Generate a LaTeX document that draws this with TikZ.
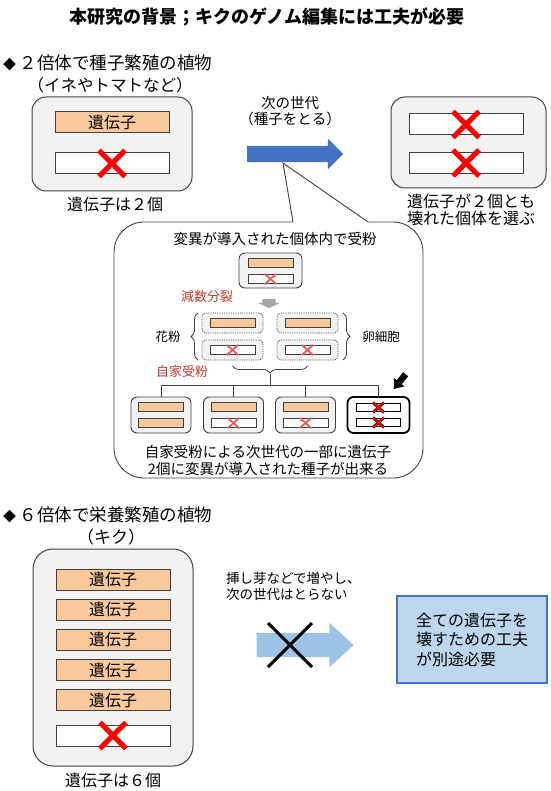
\documentclass[tikz,border=0pt]{standalone}
\usepackage{fontspec}
\setmainfont{Noto Sans CJK JP}
\usetikzlibrary{shapes.misc,shapes.arrows,decorations.pathreplacing}
\definecolor{GeneOrange}{HTML}{F9C89B}
\definecolor{CellGray}{HTML}{F2F2F2}
\definecolor{EdgeGray}{HTML}{404040}
\definecolor{SeedBlue}{HTML}{4472C4}
\definecolor{CloneBlue}{HTML}{9DC3E6}
\definecolor{NoteBlue}{HTML}{BDD7EE}
\definecolor{StepRed}{HTML}{C0392B}
\definecolor{MarkRed}{HTML}{E8575A}
\definecolor{DownGray}{HTML}{A6A6A6}
\newcommand{\fsize}[2]{\fontsize{#1}{#2}\selectfont}
\newcommand{\bullmark}{{\fsize{13}{20}◆}}
\newcommand{\drawgene}{\node[gene]}
\newcommand{\drawslot}{\node[slot]}
\newcommand{\drawcross}{\node[bigcross]}
\newcommand{\drawmini}{\node[minigene]}
\newcommand{\drawminislot}{\node[minislot]}
\newcommand{\drawminicross}{\node[minicross]}

\begin{document}
\begin{tikzpicture}[x=1pt, y=-1pt, every node/.style={inner sep=0, outer sep=0},
  cell/.style={draw=EdgeGray, fill=CellGray, line width=1pt, rounded corners=14pt},
  gene/.style={draw=EdgeGray, fill=GeneOrange, line width=1pt, minimum width=114pt, minimum height=21pt, font=\fsize{16}{18}},
  slot/.style={draw=EdgeGray, fill=white, line width=1pt, minimum width=114pt, minimum height=21pt},
  bigcross/.style={cross out, draw=red, line width=5pt, minimum size=26pt},
  halfcell/.style={draw=EdgeGray, densely dotted, fill=CellGray, line width=0.8pt, rounded corners=4pt, minimum width=61pt, minimum height=20pt},
  seedcell/.style={draw=EdgeGray, fill=CellGray, line width=0.9pt, rounded corners=6pt, minimum width=60pt, minimum height=36pt},
  minigene/.style={draw=EdgeGray, fill=GeneOrange, line width=0.7pt, minimum width=45pt, minimum height=8.5pt},
  minislot/.style={draw=EdgeGray, fill=white, line width=0.7pt, minimum width=45pt, minimum height=8.5pt},
  minicross/.style={cross out, draw=MarkRed, line width=1.8pt, minimum width=11pt, minimum height=10pt},
  koslot/.style={draw=black, fill=white, line width=1.2pt, minimum width=44pt, minimum height=8.5pt},
  kocross/.style={cross out, draw=black, double=red, line width=0.5pt, double distance=1.8pt, minimum width=11pt, minimum height=10pt},
  steplab/.style={text=StepRed, font=\fsize{13}{15}},
  note/.style={draw=SeedBlue, fill=NoteBlue, line width=1.6pt, minimum width=150pt, minimum height=87pt, align=left, font=\fsize{16}{19.5}},
  tree/.style={draw=EdgeGray, line width=1pt},
  bubble/.style={draw=EdgeGray, line width=0.9pt},
  brace/.style={decorate, decoration={brace, amplitude=7pt}, draw=EdgeGray, line width=0.8pt}]
\useasboundingbox (0,0) rectangle (550,791);
%title
\node[font=\fsize{18}{20}\bfseries] (title) at (267,17) {本研究の背景；キクのゲノム編集には工夫が必要};

%diploid, seed propagation
\node[anchor=west, font=\fsize{17.5}{20}] (head1) at (3,63) {\bullmark{} ２倍体で種子繁殖の植物};
\node[font=\fsize{16.5}{20}] (sub1) at (110,85) {（イネやトマトなど）};
\node[cell, minimum width=160pt, minimum height=94pt] (wt) at (112,144) {};
\drawgene (wt1) at (112,122) {遺伝子};
\drawslot (wt2) at (112,163.5) {};
\drawcross (wtx) at (wt2) {};
\node[font=\fsize{16}{18}] (wtlab) at (115,204) {遺伝子は２個};

\node[single arrow, fill=SeedBlue, inner ysep=8pt, minimum height=96pt, minimum width=30pt, single arrow head extend=7pt] (seed) at (291,154) {};
\node[align=center, font=\fsize{14.5}{16.5}] (seedlab) at (290,111) {次の世代\\（種子をとる）};

\node[cell, minimum width=155pt, minimum height=91pt] (ko) at (468.5,142.5) {};
\drawslot (ko1) at (466,124.5) {};
\drawslot (ko2) at (466,163) {};
\drawcross (kox1) at (ko1) {};
\drawcross (kox2) at (ko2) {};
\node[align=center, font=\fsize{16}{17}] (kolab) at (471,210) {遺伝子が２個とも\\壊れた個体を選ぶ};

%callout: selfing inside one plant
\coordinate (ptr) at (283,163);
\draw[bubble] (293,222) -- (ptr) -- (368,222);
\draw[bubble, rounded corners=30pt] (293,222) -- (114,222) -- (114,478) -- (423,478) -- (423,222) -- (368,222);
\node[font=\fsize{14.5}{16}] (selfing) at (275,239) {変異が導入された個体内で受粉};
\node[seedcell, minimum width=63pt, minimum height=35pt] (het) at (270.5,270.5) {};
\drawmini (het1) at (270.5,263) {};
\drawminislot (het2) at (270.5,279) {};
\drawminicross (hetx) at (het2) {};
\node[steplab] (meiosis) at (207,297) {減数分裂};
\node[single arrow, fill=DownGray, inner ysep=6.5pt, minimum height=9pt, minimum width=22pt, single arrow head extend=4.5pt, single arrow tip angle=130, rotate=270] (down) at (269,302) {};

\node[halfcell] (p1) at (232.5,323) {};
\node[halfcell] (p2) at (232.5,350) {};
\node[halfcell] (e1) at (307.5,323) {};
\node[halfcell] (e2) at (307.5,350) {};
\drawmini (p1g) at (p1) {};
\drawminislot (p2g) at (p2) {};
\drawminicross (p2x) at (p2) {};
\drawmini (e1g) at (e1) {};
\drawminislot (e2g) at (e2) {};
\drawminicross (e2x) at (e2) {};
\draw[brace] ([xshift=-4pt]p2.south west) -- ([xshift=-4pt]p1.north west);
\draw[brace] ([xshift=5pt]e1.north east) -- ([xshift=5pt]e2.south east);
\draw[brace] ([yshift=-6pt]e2.south) -- ([yshift=-6pt]p2.south);
\node[font=\fsize{12.5}{14}] (pollen) at (168,337) {花粉};
\node[font=\fsize{12.5}{14}] (egg) at (381,337) {卵細胞};
\node[steplab] (selfpol) at (182,372) {自家受粉};
\coordinate (brtip) at (270,374);
\coordinate (hub) at (270,385);

\node[seedcell] (s1) at (161,415) {};
\node[seedcell] (s2) at (233.5,415) {};
\node[seedcell] (s3) at (305.5,415) {};
\node[seedcell, draw=black, fill=white, line width=1.8pt, minimum width=62pt] (s4) at (378.5,415) {};
\drawmini (s1a) at (161,407) {};
\drawmini (s1b) at (161,423) {};
\drawmini (s2a) at (233.5,407) {};
\drawminislot (s2b) at (233.5,423) {};
\drawminicross (s2x) at (s2b) {};
\drawmini (s3a) at (305.5,407) {};
\drawminislot (s3b) at (305.5,423) {};
\drawminicross (s3x) at (s3b) {};
\node[koslot] (s4a) at (378.5,407.5) {};
\node[koslot] (s4b) at (378.5,422.5) {};
\node[kocross] (s4x1) at (s4a) {};
\node[kocross] (s4x2) at (s4b) {};
\node[single arrow, fill=black, inner ysep=3pt, minimum height=19pt, minimum width=13pt, single arrow head extend=3.5pt, single arrow tip angle=75, rotate=231] (pick) at (401,380) {};

\draw[tree] (brtip) -- (hub);
\draw[tree] (hub) -| (s1.north);
\draw[tree] (hub) -| (s2.north);
\draw[tree] (hub) -| (s3.north);
\draw[tree] (hub) -| (s4.north);
\node[align=center, font=\fsize{14.5}{17}] (result) at (268,460.5) {自家受粉による次世代の一部に遺伝子\\2個に変異が導入された種子が出来る};

%hexaploid, vegetative propagation
\node[anchor=west, font=\fsize{17.5}{20}] (head2) at (3,515) {\bullmark{} ６倍体で栄養繁殖の植物};
\node[font=\fsize{17}{20}] (sub2) at (111,537) {（キク）};
\node[cell, minimum width=160pt, minimum height=217pt, rounded corners=20pt] (kiku) at (113,657.5) {};
\drawgene (k1) at (113,579.5) {遺伝子};
\drawgene (k2) at (113,609.5) {遺伝子};
\drawgene (k3) at (113,639.5) {遺伝子};
\drawgene (k4) at (113,670) {遺伝子};
\drawgene (k5) at (113,700) {遺伝子};
\drawslot (k6) at (113,735.5) {};
\drawcross (k6x) at (k6) {};
\node[font=\fsize{16}{18}] (kikulab) at (113,780) {遺伝子は６個};

\node[anchor=west, align=left, font=\fsize{13.5}{16}] (cutlab) at (226,586) {挿し芽などで増やし、\\次の世代はとらない};
\node[single arrow, fill=CloneBlue, inner ysep=12pt, minimum height=97pt, minimum width=44pt, single arrow head extend=10pt, single arrow tip angle=85] (clone) at (298.5,645) {};
\node[cross out, draw=black, line width=3pt, minimum size=44pt] (noseed) at (290,645) {};
\node[note] (need) at (472,639.5) {全ての遺伝子を\\壊すための工夫\\が別途必要};

\end{tikzpicture}
\end{document}
